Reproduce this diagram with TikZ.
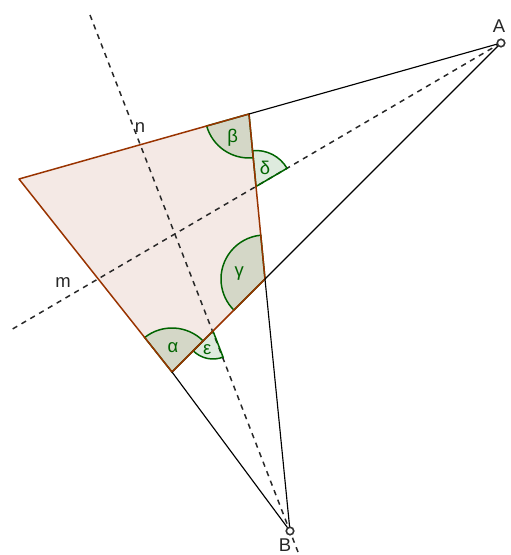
\documentclass[tikz,border=0pt]{standalone}
\usepackage{fontspec}
\setmainfont{Liberation Sans}
\usetikzlibrary{calc}

\definecolor{polybrown}{RGB}{153,51,0}
\definecolor{polyfill}{RGB}{244,233,229}
\definecolor{anggreen}{RGB}{0,100,0}
\definecolor{auxgrey}{RGB}{40,40,40}

\begin{document}
\begin{tikzpicture}[
    side/.style={draw=polybrown, line width=0.85pt, line join=round},
    ray/.style={draw=black, line width=0.65pt},
    bis/.style={draw=auxgrey, line width=0.85pt, dash pattern=on 3pt off 2.8pt},
    ang/.style={draw=anggreen, line width=0.85pt, fill=anggreen, fill opacity=0.13, draw opacity=1},
    angl/.style={text=anggreen, font=\fontsize{10.5}{12}\selectfont, inner sep=0pt},
    lbl/.style={text=black!85, font=\fontsize{10.5}{12}\selectfont, inner sep=0pt},
    pt/.style={draw=black!80, line width=0.9pt, fill=white}
]
\useasboundingbox (0,0) rectangle (10.22,11.10);

% quadrilateral and the two outer points
\coordinate (P1) at (0.38,7.52);
\coordinate (P2) at (4.98,8.82);
\coordinate (P3) at (5.30,5.52);
\coordinate (P4) at (3.44,3.66);
\coordinate (A) at (10.02,10.24);
\coordinate (B) at (5.80,0.48);

% ends of the bisectors m and n
\coordinate (mend) at (0.20,4.49);
\coordinate (ntop) at (1.80,10.80);
\coordinate (nbot) at (5.96,0.06);
\coordinate (D) at (5.12,7.37);
\coordinate (E) at (4.26,4.48);

\fill[polyfill] (P1) -- (P2) -- (P3) -- (P4) -- cycle;

\draw[bis] (A) -- (mend);
\draw[bis] (ntop) -- (nbot);

% angle sectors
\filldraw[ang] (P4) -- ++(45:0.88) arc[start angle=45, end angle=128.4, radius=0.88] -- cycle;
\filldraw[ang] (P2) -- ++(195.8:0.88) arc[start angle=195.8, end angle=275.5, radius=0.88] -- cycle;
\filldraw[ang] (P3) -- ++(95.5:0.88) arc[start angle=95.5, end angle=225, radius=0.88] -- cycle;
\filldraw[ang] (D) -- ++(30.35:0.72) arc[start angle=30.35, end angle=95.5, radius=0.72] -- cycle;
\filldraw[ang] (E) -- ++(225:0.56) arc[start angle=225, end angle=291.1, radius=0.56] -- cycle;

\draw[side] (P1) -- (P2) -- (P3) -- (P4) -- cycle;

\draw[ray] (P2) -- (A);
\draw[ray] (P3) -- (A);
\draw[ray] (P3) -- (B);
\draw[ray] (P4) -- (B);

\draw[pt] (A) circle (0.075);
\draw[pt] (B) circle (0.075);

\node[angl] (la) at ($(P4)+(87.6:0.48)$) {α};
\node[angl] (lb) at ($(P2)+(236:0.58)$) {β};
\node[angl] (lg) at ($(P3)+(167:0.53)$) {γ};
\node[angl] (ld) at ($(D)+(64:0.41)$) {δ};
\node[angl] (le) at ($(E)+(252.7:0.38)$) {ε};

\node[lbl] (lA) at ($(A)+(-0.04,0.33)$) {A};
\node[lbl] (lB) at ($(B)+(-0.10,-0.29)$) {B};
\node[lbl] (lm) at (1.26,5.44) {m};
\node[lbl] (ln) at (2.80,8.54) {n};
\end{tikzpicture}
\end{document}
